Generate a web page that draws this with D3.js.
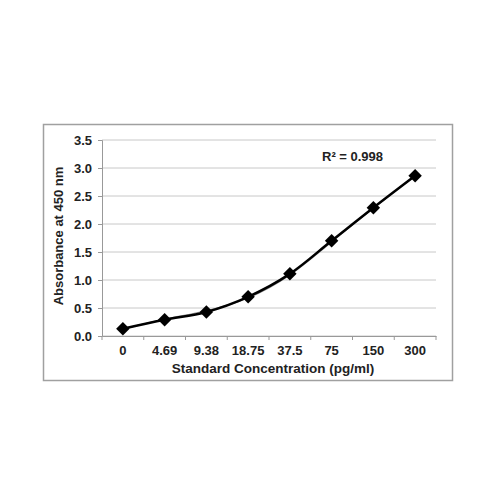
<!DOCTYPE html>
<html>
<head>
<meta charset="utf-8">
<script src="https://cdn.jsdelivr.net/npm/d3@7"></script>
<style>
	body { margin: 0; background: #fff; }
	text { font-family: "Liberation Sans", Arial, sans-serif; font-weight: bold; fill: #222; }
</style>
</head>
<body>
<svg id="chart" width="500" height="500"></svg>
<script>
// standard curve data
var concentrations = ["0", "4.69", "9.38", "18.75", "37.5", "75", "150", "300"];
var absorbance = [0.13, 0.29, 0.43, 0.70, 1.11, 1.70, 2.29, 2.86];
// trendline (polynomial fit, drawn thin and gray under the data)
var trendline = [0.12, 0.30, 0.45, 0.68, 1.09, 1.68, 2.28, 2.87];
var yTicks = [0, 0.5, 1, 1.5, 2, 2.5, 3, 3.5];

var svg = d3.select("#chart");

// chart frame
svg.append("rect")
	.attr("x", 43.5).attr("y", 124.5)
	.attr("width", 409).attr("height", 256)
	.attr("fill", "#fff")
	.attr("stroke", "#a0a0a0")
	.attr("stroke-width", 1.5);

var margin = {top: 140, left: 102, right: 436, bottom: 336};

var x = d3.scaleBand()
	.domain(concentrations)
	.range([margin.left, margin.right]);

var y = d3.scaleLinear()
	.domain([0, 3.5])
	.range([margin.bottom, margin.top]);

// horizontal gridlines
svg.append("g")
	.selectAll("line")
	.data(yTicks)
	.join("line")
	.attr("x1", margin.left).attr("x2", margin.right)
	.attr("y1", function(d) { return y(d); })
	.attr("y2", function(d) { return y(d); })
	.attr("stroke", "#c8c8c8")
	.attr("stroke-width", 1);

// y axis
var yAxis = svg.append("g")
	.attr("transform", "translate(" + margin.left + ",0)")
	.call(d3.axisLeft(y).tickValues(yTicks).tickFormat(d3.format(".1f")).tickSize(4).tickPadding(6));
yAxis.select(".domain").attr("stroke", "#999");
yAxis.selectAll(".tick line").attr("stroke", "#999");
yAxis.selectAll("text").attr("font-size", 13).attr("fill", "#222");

// x axis, ticks at the band edges like excel
var xAxis = svg.append("g")
	.attr("transform", "translate(0," + margin.bottom + ")")
	.call(d3.axisBottom(x).tickSize(0).tickPadding(10));
xAxis.select(".domain").attr("stroke", "#999");
xAxis.selectAll("text").attr("font-size", 13).attr("fill", "#222");
svg.append("g")
	.selectAll("line")
	.data(concentrations)
	.join("line")
	.attr("x1", function(d) { return x(d) + x.bandwidth(); })
	.attr("x2", function(d) { return x(d) + x.bandwidth(); })
	.attr("y1", margin.bottom)
	.attr("y2", margin.bottom + 4)
	.attr("stroke", "#999");
svg.append("line")
	.attr("x1", margin.left).attr("x2", margin.left)
	.attr("y1", margin.bottom).attr("y2", margin.bottom + 4)
	.attr("stroke", "#999");

var cx = function(d, i) { return x(concentrations[i]) + x.bandwidth() / 2; };

// trendline
svg.append("path")
	.datum(trendline)
	.attr("fill", "none")
	.attr("stroke", "#999")
	.attr("stroke-width", 1.2)
	.attr("d", d3.line().x(cx).y(function(d) { return y(d); }).curve(d3.curveNatural));

// data line
svg.append("path")
	.datum(absorbance)
	.attr("fill", "none")
	.attr("stroke", "#000")
	.attr("stroke-width", 2.5)
	.attr("d", d3.line().x(cx).y(function(d) { return y(d); }).curve(d3.curveCatmullRom));

// diamond markers
svg.append("g")
	.selectAll("path")
	.data(absorbance)
	.join("path")
	.attr("transform", function(d, i) { return "translate(" + cx(d, i) + "," + y(d) + ")"; })
	.attr("d", d3.symbol().type(d3.symbolDiamond2).size(115))
	.attr("fill", "#000");

// R squared label
svg.append("text")
	.attr("x", 322).attr("y", 161)
	.attr("font-size", 13)
	.text("R² = 0.998");

// axis titles
svg.append("text")
	.attr("x", 273)
	.attr("y", 373)
	.attr("text-anchor", "middle")
	.attr("font-size", 13.5)
	.text("Standard Concentration (pg/ml)");

svg.append("text")
	.attr("transform", "translate(63," + (y(1.75) - 2) + ") rotate(-90)")
	.attr("text-anchor", "middle")
	.attr("font-size", 13)
	.text("Absorbance at 450 nm");
</script>
</body>
</html>
